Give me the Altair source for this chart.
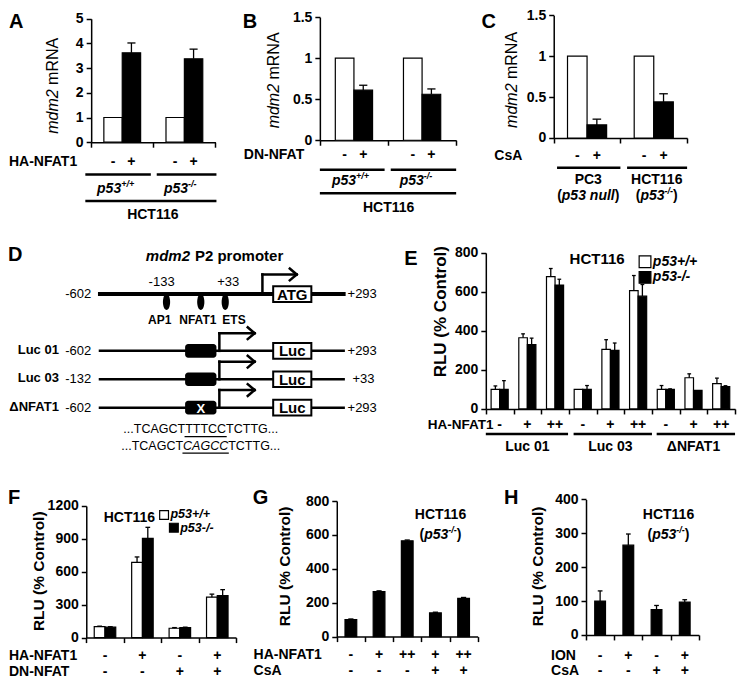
import altair as alt
import pandas as pd

FONT = "Liberation Sans"
W, H = 729, 672
KX = W / 745.0
Y0 = 0.0
KY = H / 686.0


def PX(x):
    return round(x * KX, 2)


def PY(y):
    return round((y - Y0) * KY, 2)


# ------------------------------------------------------------------ data
# A  (mdm2 mRNA, HA-NFAT1)
A_groups = ["p53+/+", "p53-/-"]
A_white = [1.0, 1.0]
A_white_err = [0.0, 0.0]
A_black = [3.62, 3.38]
A_black_err = [0.40, 0.39]
# B  (mdm2 mRNA, DN-NFAT)
B_white = [1.0, 1.0]
B_white_err = [0.0, 0.0]
B_black = [0.61, 0.56]
B_black_err = [0.06, 0.065]
# C  (mdm2 mRNA, CsA)
C_groups = ["PC3", "HCT116"]
C_white = [1.0, 1.0]
C_white_err = [0.0, 0.0]
C_black = [0.16, 0.44]
C_black_err = [0.07, 0.10]
# E  (RLU, reporter constructs)
E_groups = ["Luc 01", "Luc 03", "\u0394NFAT1"]
E_ha = ["-", "+", "++", "-", "+", "++", "-", "+", "++"]
E_wt = [100, 365, 678, 100, 305, 607, 100, 160, 130]
E_wt_err = [18, 20, 42, 0, 50, 77, 20, 20, 28]
E_ko = [100, 330, 635, 100, 300, 578, 100, 95, 115]
E_ko_err = [45, 33, 30, 20, 38, 60, 3, 0, 4]
# F
F_ha = ["-", "+", "-", "+"]
F_dn = ["-", "-", "+", "+"]
F_wt = [100, 685, 85, 368]
F_wt_err = [4, 50, 6, 28]
F_ko = [95, 905, 90, 382]
F_ko_err = [4, 100, 5, 55]
# G
G_ha = ["-", "+", "++", "+", "++"]
G_csa = ["-", "-", "-", "+", "+"]
G_ko = [100, 265, 565, 140, 225]
G_ko_err = [4, 5, 5, 4, 6]
# H
H_ion = ["-", "+", "-", "+"]
H_csa = ["-", "-", "+", "+"]
H_ko = [100, 265, 75, 97]
H_ko_err = [30, 33, 12, 7]

# ------------------------------------------------------------------ text metrics (Arial / Liberation Sans)
REG = {" ": 278, ".": 278, "-": 333, "+": 584, "/": 278, "(": 333, ")": 333,
       "A": 667, "C": 722, "G": 778, "T": 611, "p": 556, "n": 556, "u": 556,
       "l": 222, "m": 833, "d": 556}
BOLD = {" ": 278, ".": 278, "-": 333, "+": 584, "/": 278, "(": 333, ")": 333,
        "A": 722, "C": 722, "G": 778, "T": 611, "p": 611, "n": 611, "u": 611,
        "l": 278, "m": 889, "d": 611}


def tw(s, size, bold):
    tbl = BOLD if bold else REG
    return sum(tbl.get(ch, 556) for ch in s) * size / 1000.0


T = []


def txt(t, x, y, s=14, w="bold", st="normal", al="center", ang=0, c="black"):
    T.append(dict(t=t, x=PX(x), y=PY(y), s=s, w=w, st=st, al=al, ang=ang, c=c))


def rich(parts, xc, y):
    total = sum(tw(p[0], p[1], p[2]) for p in parts) / KX
    x = xc - total / 2.0
    spans = []
    for text, size, bold, italic, dy in parts:
        txt(text, x, y + dy, s=size, w="bold" if bold else "normal",
            st="italic" if italic else "normal", al="left")
        wpx = tw(text, size, bold) / KX
        spans.append((x, x + wpx))
        x += wpx
    return spans


SEG = []


def seg(x1, y1, x2, y2, w):
    SEG.append(dict(x1=PX(x1), y1=PY(y1), x2=PX(x2), y2=PY(y2), w=w))


RECT = []
RRECT = []


def rect(x1, y1, x2, y2, f="white", w=2.0, rounded=False):
    (RRECT if rounded else RECT).append(
        dict(x1=PX(x1), y1=PY(y1), x2=PX(x2), y2=PY(y2), f=f, w=w))


OVAL = []


# ------------------------------------------------------------------ bar panels
def barc(i, k, m, gap):
    bw = 1.0 / (m + gap)
    return i + (gap / 2.0 + k + 0.5) * bw


def panel(n, series, xr, yr, ymax, ystep, gap, signs=(), lines=(), glabels=()):
    sx = alt.Scale(domain=[0, n], range=[PX(xr[0]), PX(xr[1])], nice=False, zero=False)
    sy = alt.Scale(domain=[0, ymax], range=[PY(yr[0]), PY(yr[1])], nice=False, zero=False)
    yvals = [round(i * ystep, 6) for i in range(int(round(ymax / ystep)) + 1)]
    ax = alt.Axis(orient="bottom", offset=PY(yr[0]) - H, values=list(range(n + 1)),
                  labels=False, ticks=True, tickSize=5, tickWidth=1.5, tickColor="black",
                  domainColor="black", domainWidth=1.5, grid=False, title=None)
    ay = alt.Axis(orient="left", offset=-PX(xr[0]), values=yvals, format="~f",
                  tickSize=5, tickWidth=1.5, tickColor="black", domainColor="black",
                  domainWidth=1.5, labelPadding=3, labelFont=FONT, labelFontSize=14,
                  labelFontWeight="bold", labelColor="black", grid=False, title=None)

    def X(f):
        return alt.X(f + ":Q", scale=sx, axis=ax, title=None)

    def Y(f):
        return alt.Y(f + ":Q", scale=sy, axis=ay, title=None)

    m = len(series)
    bw = 1.0 / (m + gap)
    cap = bw * 0.22
    rows = []
    for k, (vals, errs, fill) in enumerate(series):
        for i, (v, e) in enumerate(zip(vals, errs)):
            x0 = i + (gap / 2.0 + k) * bw
            xc = x0 + bw / 2.0
            rows.append(dict(x0=x0, x1=x0 + bw, xc=xc, cl=xc - cap, cr=xc + cap,
                             v=v, base=0.0, top=v + e, e=e, fill=fill))
    df = pd.DataFrame(rows)
    dferr = df[df.e > 0]
    layers = [
        alt.Chart(df).mark_bar(stroke="black", strokeWidth=1.2).encode(
            x=X("x0"), x2="x1:Q", y=Y("v"), y2="base:Q",
            fill=alt.Fill("fill:N", scale=None))
    ]
    if len(dferr):
        layers.append(alt.Chart(dferr).mark_rule(color="black", strokeWidth=1.3).encode(
            x=X("xc"), y=Y("v"), y2="top:Q"))
        layers.append(alt.Chart(dferr).mark_rule(color="black", strokeWidth=1.3).encode(
            x=X("cl"), x2="cr:Q", y=Y("top")))
    for yref, items in signs:
        sdf = pd.DataFrame({"c": [p for p, _ in items], "t": [t for _, t in items]})
        layers.append(alt.Chart(sdf).mark_text(font=FONT, fontSize=14, fontWeight="bold",
                                               color="black", baseline="middle").encode(
            x=X("c"), y=alt.value(PY(yref)), text="t:N"))
    for yref, items in lines:
        ldf = pd.DataFrame({"a": [a for a, _ in items], "b": [b for _, b in items]})
        layers.append(alt.Chart(ldf).mark_rule(color="black", strokeWidth=2.5).encode(
            x=X("a"), x2="b:Q", y=alt.value(PY(yref))))
    for yref, items in glabels:
        gdf = pd.DataFrame({"c": [p for p, _ in items], "t": [t for _, t in items]})
        layers.append(alt.Chart(gdf).mark_text(font=FONT, fontSize=14, fontWeight="bold",
                                               color="black", baseline="middle").encode(
            x=X("c"), y=alt.value(PY(yref)), text="t:N"))
    return alt.layer(*layers)


panels = []

# ---- A
gA = 1.38
panels.append(panel(
    2, [(A_white, A_white_err, "white"), (A_black, A_black_err, "black")],
    (85, 212), (137, 11), 5, 1, gA,
    signs=[(157, [(barc(i, k, 2, gA), s) for i in range(2) for k, s in enumerate(["-", "+"])])],
    lines=[(170, [(-0.094, 0.96), (1.055, 2.016)]), (197, [(-0.094, 2.016)])]))
# ---- B
gB = 1.66
panels.append(panel(
    2, [(B_white, B_white_err, "white"), (B_black, B_black_err, "black")],
    (318.7, 458), (135, 9.3), 1.5, 0.5, gB,
    signs=[(150, [(barc(i, k, 2, gB), s) for i in range(2) for k, s in enumerate(["-", "+"])])],
    lines=[(165, [(0.0, 0.95), (1.04, 2.0)]), (189, [(0.0, 2.0)])]))
# ---- C
gC = 1.41
panels.append(panel(
    2, [(C_white, C_white_err, "white"), (C_black, C_black_err, "black")],
    (557.7, 694), (132.7, 7.3), 1.5, 0.5, gC,
    signs=[(151, [(barc(i, k, 2, gC), s) for i in range(2) for k, s in enumerate(["-", "+"])])],
    lines=[(163, [(0.05, 1.0), (1.1, 2.0)])]))
# ---- E
panels.append(panel(
    9, [(E_wt, E_wt_err, "white"), (E_ko, E_ko_err, "black")],
    (488.3, 743), (409.3, 250), 800, 200, 1.24,
    signs=[(426, [(i + 0.5, s) for i, s in enumerate(E_ha)])],
    lines=[(435, [(0.0, 2.97), (3.17, 6.0), (6.17, 9.0)])],
    glabels=[(448, [(1.5 + 3 * j, g) for j, g in enumerate(E_groups)])]))
# ---- F
panels.append(panel(
    4, [(F_wt, F_wt_err, "white"), (F_ko, F_ko_err, "black")],
    (80, 233), (642.7, 508.3), 1200, 300, 1.48,
    signs=[(662, [(i + 0.5, s) for i, s in enumerate(F_ha)]),
           (678, [(i + 0.5, s) for i, s in enumerate(F_dn)])]))
# ---- G
panels.append(panel(
    5, [(G_ko, G_ko_err, "black")],
    (336, 480), (641.7, 503.3), 800, 200, 1.4,
    signs=[(660, [(i + 0.5, s) for i, s in enumerate(G_ha)]),
           (677, [(i + 0.5, s) for i, s in enumerate(G_csa)])]))
# ---- H
panels.append(panel(
    4, [(H_ko, H_ko_err, "black")],
    (590.7, 706), (640, 501.7), 400, 100, 1.62,
    signs=[(662, [(i + 0.5, s) for i, s in enumerate(H_ion)]),
           (677, [(i + 0.5, s) for i, s in enumerate(H_csa)])]))

# ------------------------------------------------------------------ annotation text
for letter, x, y in [("A", 1, 14), ("B", 240, 14), ("C", 484, 14), ("D", 0, 252),
                     ("E", 405, 256), ("F", 0, 500), ("G", 250, 500), ("H", 507, 500)]:
    txt(letter, x, y, s=20, al="left")

# y titles
for xt, split in [(46, 83), (272, 77.5), (515, 77)]:
    txt("mdm2", xt, split, s=16, w="normal", st="italic", al="right", ang=270)
    txt("mRNA", xt, split - 4.5, s=16, w="normal", al="left", ang=270)
txt("RLU (% Control)", 442, 310, s=17, al="center", ang=270)
txt("RLU (% Control)", 32, 575, s=15.5, al="center", ang=270)
txt("RLU (% Control)", 283, 570, s=15.5, al="center", ang=270)
txt("RLU (% Control)", 542, 570, s=15.5, al="center", ang=270)

# A bottom
txt("HA-NFAT1", 1, 157, al="left")
rich([("p53", 14, True, True, 0), ("+/+", 9, True, True, -5)], 110, 185)
rich([("p53", 14, True, True, 0), ("-/-", 9, True, True, -5)], 176, 185)
txt("HCT116", 148, 211)
# B bottom
txt("DN-NFAT", 241, 150, al="left")
rich([("p53", 14, True, True, 0), ("+/+", 9, True, True, -5)], 350, 177)
rich([("p53", 14, True, True, 0), ("-/-", 9, True, True, -5)], 417, 177)
txt("HCT116", 389, 204)
# C bottom
txt("CsA", 497, 151, al="left")
txt(C_groups[0], 593, 176)
txt(C_groups[1], 663, 176)
rich([("(", 14, True, False, 0), ("p53 null", 14, True, True, 0), (")", 14, True, False, 0)], 593, 192)
rich([("(", 14, True, False, 0), ("p53", 14, True, True, 0), ("-/-", 9, True, True, -5),
      (")", 14, True, False, 0)], 663, 192)
# E
txt("HA-NFAT1", 429, 426, s=13.5, al="left")
txt("HCT116", 602, 256, s=15)
rect(645, 253, 657, 265, "white", 1.2)
rect(645, 269, 657, 281, "black", 1.2)
txt("p53+/+", 659, 259, s=14, st="italic", al="left")
txt("p53-/-", 659, 275, s=14, st="italic", al="left")
# F
txt("HA-NFAT1", 1, 662, al="left")
txt("DN-NFAT", 1, 678, al="left")
txt("HCT116", 124, 521, s=14)
rect(155, 513, 164, 522, "white", 1.2)
rect(165, 526, 174, 535, "black", 1.2)
txt("p53+/+", 166, 517, s=12.5, st="italic", al="left")
txt("p53-/-", 176, 531, s=12.5, st="italic", al="left")
# G
txt("HA-NFAT1", 251, 660, al="left")
txt("CsA", 251, 677, al="left")
txt("HCT116", 442, 518)
rich([("(", 14, True, False, 0), ("p53", 14, True, True, 0), ("-/-", 9, True, True, -5),
      (")", 14, True, False, 0)], 442, 538)
# H
txt("ION", 555, 662, al="left")
txt("CsA", 555, 677, al="left")
txt("HCT116", 675, 518)
rich([("(", 14, True, False, 0), ("p53", 14, True, True, 0), ("-/-", 9, True, True, -5),
      (")", 14, True, False, 0)], 675, 538)

# ------------------------------------------------------------------ D: promoter diagram
seg(94, 292, 343, 292, 4)
rows_y = [350, 379, 408]
for y in rows_y:
    seg(94, y, 343, y, 2.5)


def arrow(xv, ybase, yt, xtip, w=2.5):
    seg(xv, ybase, xv, yt, w)
    seg(xv, yt, xtip, yt, w)
    seg(xtip, yt, xtip - 7, yt - 6, w)
    seg(xtip, yt, xtip - 7, yt + 6, w)


arrow(260, 292, 272, 295)
for y in rows_y:
    arrow(216, y, y - 18, 252)

rect(271, 284, 310, 300, "white", 2)
for y in rows_y:
    rect(271, y - 8, 310, y + 8, "white", 2)
    rect(181, y - 7, 213, y + 7, "black", 1, rounded=True)

for xo in (162, 197, 222):
    OVAL.append(dict(x=PX(xo), y=PY(300)))

txt("mdm2", 186, 253, s=15, st="italic", al="right")
txt("P2 promoter", 191, 253, s=15, al="left")
txt("-133", 157, 280, s=13, w="normal")
txt("+33", 225, 280, s=13, w="normal")
txt("-602", 85, 292, s=13, w="normal", al="right")
txt("+293", 347, 292, s=13, w="normal", al="left")
txt("AP1", 155, 319, s=12)
txt("NFAT1", 194, 319, s=12)
txt("ETS", 231, 319, s=12)
txt("ATG", 290.5, 292.5, s=15)
for lab, left, right, rx, y in [("Luc 01", "-602", "+293", 347, 350),
                               ("Luc 03", "-132", "+33", 352, 379),
                               ("\u0394NFAT1", "-602", "+293", 347, 408)]:
    txt(lab, 52, y - 1, s=13, al="right")
    txt(left, 85, y, s=13, w="normal", al="right")
    txt(right, rx, y, s=13, w="normal", al="left")
    txt("Luc", 290.5, y + 0.5, s=15)
txt("X", 197, 409, s=13, c="white")

sp1 = rich([("...TCAGCT", 12.5, False, False, 0), ("TTTCC", 12.5, False, False, 0),
            ("TCTTG...", 12.5, False, False, 0)], 197, 430)
seg(sp1[1][0], 437.5, sp1[1][1], 437.5, 1.2)
sp2 = rich([("...TCAGCT", 12.5, False, False, 0), ("CAGCC", 12.5, False, True, 0),
            ("TCTTG...", 12.5, False, False, 0)], 197, 447)
seg(sp2[1][0], 454.5, sp2[1][1], 454.5, 1.2)

# ------------------------------------------------------------------ build layers
NX = lambda f: alt.X(f + ":Q", scale=None, axis=None)
NY = lambda f: alt.Y(f + ":Q", scale=None, axis=None)

others = []
others.append(alt.Chart(pd.DataFrame(SEG)).mark_rule(color="black", strokeCap="square").encode(
    x=NX("x1"), x2="x2:Q", y=NY("y1"), y2="y2:Q",
    strokeWidth=alt.StrokeWidth("w:Q", scale=None, legend=None)))
others.append(alt.Chart(pd.DataFrame(RECT)).mark_rect(stroke="black").encode(
    x=NX("x1"), x2="x2:Q", y=NY("y1"), y2="y2:Q",
    fill=alt.Fill("f:N", scale=None),
    strokeWidth=alt.StrokeWidth("w:Q", scale=None, legend=None)))
others.append(alt.Chart(pd.DataFrame(RRECT)).mark_rect(color="black", cornerRadius=3).encode(
    x=NX("x1"), x2="x2:Q", y=NY("y1"), y2="y2:Q"))
ELLIPSE = "M0,-1 A0.45,1 0 1,1 0,1 A0.45,1 0 1,1 0,-1 Z"
others.append(alt.Chart(pd.DataFrame(OVAL)).mark_point(
    shape=ELLIPSE, filled=True, color="black", size=256, opacity=1).encode(
    x=NX("x"), y=NY("y")))

tdf = pd.DataFrame(T)
for (w, st, al, ang), g in tdf.groupby(["w", "st", "al", "ang"]):
    others.append(alt.Chart(g.reset_index(drop=True)).mark_text(
        font=FONT, fontWeight=w, fontStyle=st, align=al, baseline="middle",
        angle=int(ang)).encode(
        x=NX("x"), y=NY("y"), text="t:N",
        size=alt.Size("s:Q", scale=None, legend=None),
        color=alt.Color("c:N", scale=None, legend=None)))

chart = alt.layer(*panels, *others).resolve_scale(
    x="independent", y="independent"
).properties(
    width=W, height=H, autosize=alt.AutoSizeParams(type="none"), padding=0,
    background="white"
).configure_view(stroke=None)

chart.save("out.html", embed_options={"renderer": "svg", "actions": False})
